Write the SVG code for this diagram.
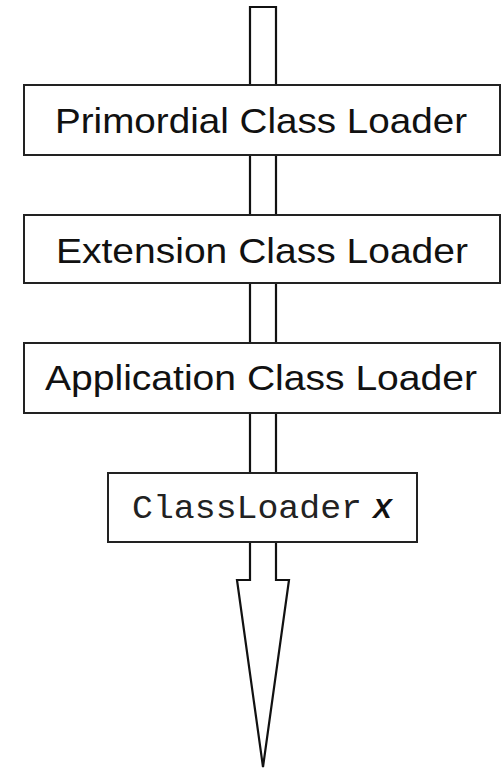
<svg xmlns="http://www.w3.org/2000/svg" width="502" height="769" viewBox="0 0 502 769">
<style>
.box{fill:#fff;stroke:#222;stroke-width:2}
.lbl{font-family:"Liberation Sans",Arial,sans-serif;font-size:35px;fill:#111}
.mono{font-family:"Liberation Mono","Courier New",monospace;font-size:34px;fill:#222}
.x{font-family:"Liberation Sans",Arial,sans-serif;font-size:28px;font-weight:bold;font-style:italic;fill:#111}
</style>
<g id="connectors">
<path d="M250,7 L276,7 L276,580 L289,580 L263,767 L237,580 L250,580 Z" fill="#fff" stroke="#111" stroke-width="2.2" stroke-linejoin="miter"/>
</g>
<g id="primordial">
<rect class="box" x="24" y="85" width="476" height="70"/>
<text class="lbl" x="55" y="133" textLength="412" lengthAdjust="spacingAndGlyphs">Primordial Class Loader</text>
</g>
<g id="extension">
<rect class="box" x="24" y="215" width="476" height="68"/>
<text class="lbl" x="56" y="263" textLength="412" lengthAdjust="spacingAndGlyphs">Extension Class Loader</text>
</g>
<g id="application">
<rect class="box" x="24" y="343" width="476" height="70"/>
<text class="lbl" x="45" y="390" textLength="432" lengthAdjust="spacingAndGlyphs">Application Class Loader</text>
</g>
<g id="classloaderx">
<rect class="box" x="108" y="473" width="309" height="69"/>
<text class="mono" x="132" y="518" textLength="230" lengthAdjust="spacingAndGlyphs">ClassLoader</text>
<text class="x" x="373" y="518">X</text>
</g>
</svg>
